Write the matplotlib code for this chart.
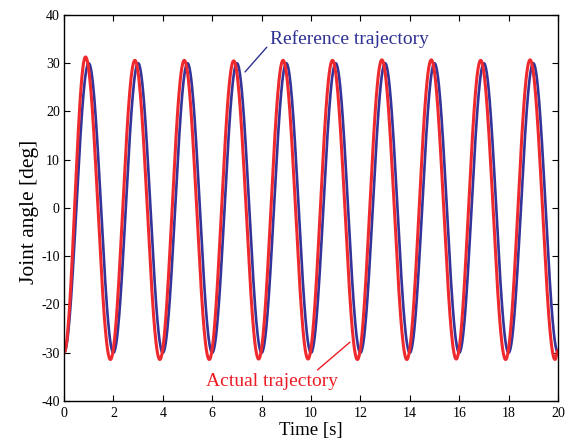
import numpy as np
import matplotlib
matplotlib.use('Agg')
import matplotlib.pyplot as plt

# extrema: (time [s], angle [deg])
ref_times = [0, 1, 2, 3, 4, 5, 6, 7, 8, 9, 10, 11, 12, 13, 14, 15, 16, 17, 18, 19, 20]
ref_values = [-30, 30, -30, 30, -30, 30, -30, 30, -30, 30, -30,
              30, -30, 30, -30, 30, -30, 30, -30, 30, -30]

act_times = [0, 0.87, 1.88, 2.87, 3.88, 4.87, 5.88, 6.87, 7.88, 8.87, 9.88,
             10.87, 11.88, 12.87, 13.88, 14.87, 15.88, 16.87, 17.88, 18.87, 19.88, 20]
act_values = [-30, 31.3, -31.4, 30.6, -31.4, 30.6, -31.4, 30.5, -31.3, 30.6, -31.3,
              30.6, -31.4, 30.7, -31.4, 30.7, -31.3, 30.6, -31.4, 30.7, -31.4, -29.5]

xticks = [0, 2, 4, 6, 8, 10, 12, 14, 16, 18, 20]
yticks = [-40, -30, -20, -10, 0, 10, 20, 30, 40]


def smooth(times, values, n=60):
    # half-cosine between each pair of extrema
    xs, ys = [], []
    for i in range(len(times) - 1):
        s = np.linspace(0, 1, n, endpoint=False)
        xs.append(times[i] + s * (times[i + 1] - times[i]))
        ys.append(values[i] + (values[i + 1] - values[i]) * (1 - np.cos(np.pi * s)) / 2)
    xs.append([times[-1]])
    ys.append([values[-1]])
    return np.concatenate(xs), np.concatenate(ys)


plt.rcParams['font.family'] = ['Liberation Serif', 'DejaVu Serif']
plt.rcParams['axes.unicode_minus'] = False

fig = plt.figure(figsize=(5.72, 4.41), dpi=100)
ax = fig.add_axes([0.1119, 0.0907, 0.8636, 0.8753])

tr, yr = smooth(ref_times, ref_values)
ta, ya = smooth(act_times, act_values)
ax.plot(tr, yr, color='#33339a', lw=1.9)
ax.plot(ta, ya, color='#ee2a2e', lw=2.2)

ax.set_xlim(0, 20)
ax.set_ylim(-40, 40)
ax.set_xticks(xticks)
ax.set_yticks(yticks)
ax.tick_params(direction='in', top=True, right=True, length=4, labelsize=10)
ax.tick_params(axis='x', pad=4)
ax.tick_params(axis='y', pad=3)
for sp in ax.spines.values():
    sp.set_linewidth(1.0)

ax.set_xlabel('Time [s]', fontsize=13.5, labelpad=2)
ax.set_ylabel('Joint angle [deg]', fontsize=15.5)
ax.yaxis.set_label_coords(-0.05, 0.49)

ax.annotate('Reference trajectory', xy=(7.33, 28.2), xytext=(11.54, 35.1),
            color='#2e3192', fontsize=14, ha='center', va='center',
            arrowprops=dict(arrowstyle='-', color='#2e3192', lw=1.0,
                            shrinkA=0, shrinkB=0, relpos=(0.0, 0.2)))
ax.annotate('Actual trajectory', xy=(11.58, -27.8), xytext=(8.42, -35.9),
            color='#ed1c24', fontsize=14, ha='center', va='center',
            arrowprops=dict(arrowstyle='-', color='#ed1c24', lw=1.0,
                            shrinkA=0, shrinkB=0, relpos=(0.82, 1.0)))

fig.savefig('out.png', dpi=100)
